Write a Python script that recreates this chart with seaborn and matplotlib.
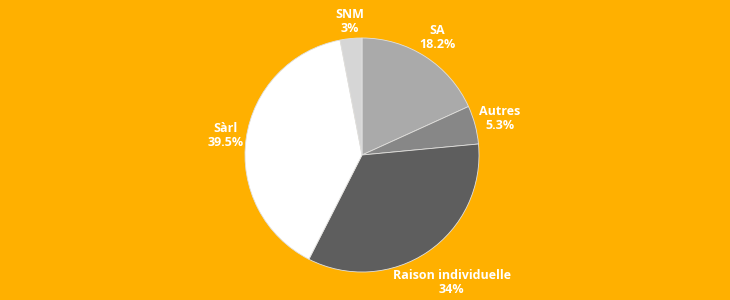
import matplotlib
matplotlib.use("Agg")
import matplotlib.pyplot as plt
import seaborn as sns
import numpy as np

categories = ["SA", "Autres", "Raison individuelle", "Sàrl", "SNM"]
values = [18.2, 5.3, 34, 39.5, 3]
value_labels = ["18.2%", "5.3%", "34%", "39.5%", "3%"]
colors = ["#aaaaaa", "#878787", "#5e5e5e", "#ffffff", "#d6d6d6"]
label_dist = [1.19, 1.22, 1.335, 1.18, 1.15]
label_rot = [0, 0, 0.9, 0, 0]

sns.set_theme(style="white")
plt.rcParams["font.family"] = ["Open Sans", "DejaVu Sans"]

W, H = 730, 300
fig = plt.figure(figsize=(W / 100, H / 100), dpi=100)
fig.patch.set_facecolor("#ffb000")
ax = fig.add_axes([0, 0, 1, 1])
ax.set_facecolor("#ffb000")

labels = [f"{c}\n{v}" for c, v in zip(categories, value_labels)]
wedges, texts = ax.pie(values, labels=labels, colors=colors, startangle=90,
                       counterclock=False, labeldistance=1.2, radius=1,
                       wedgeprops=dict(linewidth=0.6, edgecolor="#e0e0e0"),
                       textprops=dict(color="white", fontsize=9,
                                      fontweight="bold", ha="center",
                                      va="center", linespacing=1.1))
for w, t, d, dr in zip(wedges, texts, label_dist, label_rot):
    ang = np.deg2rad((w.theta1 + w.theta2) / 2 + dr)
    t.set_position((d * np.cos(ang), d * np.sin(ang)))

cx, cy, r = 362, 155, 117
ax.set_xlim(-cx / r, (W - cx) / r)
ax.set_ylim(-(H - cy) / r, cy / r)
ax.set_aspect("auto")
ax.axis("off")

fig.savefig("out.png", dpi=100, facecolor=fig.get_facecolor())
